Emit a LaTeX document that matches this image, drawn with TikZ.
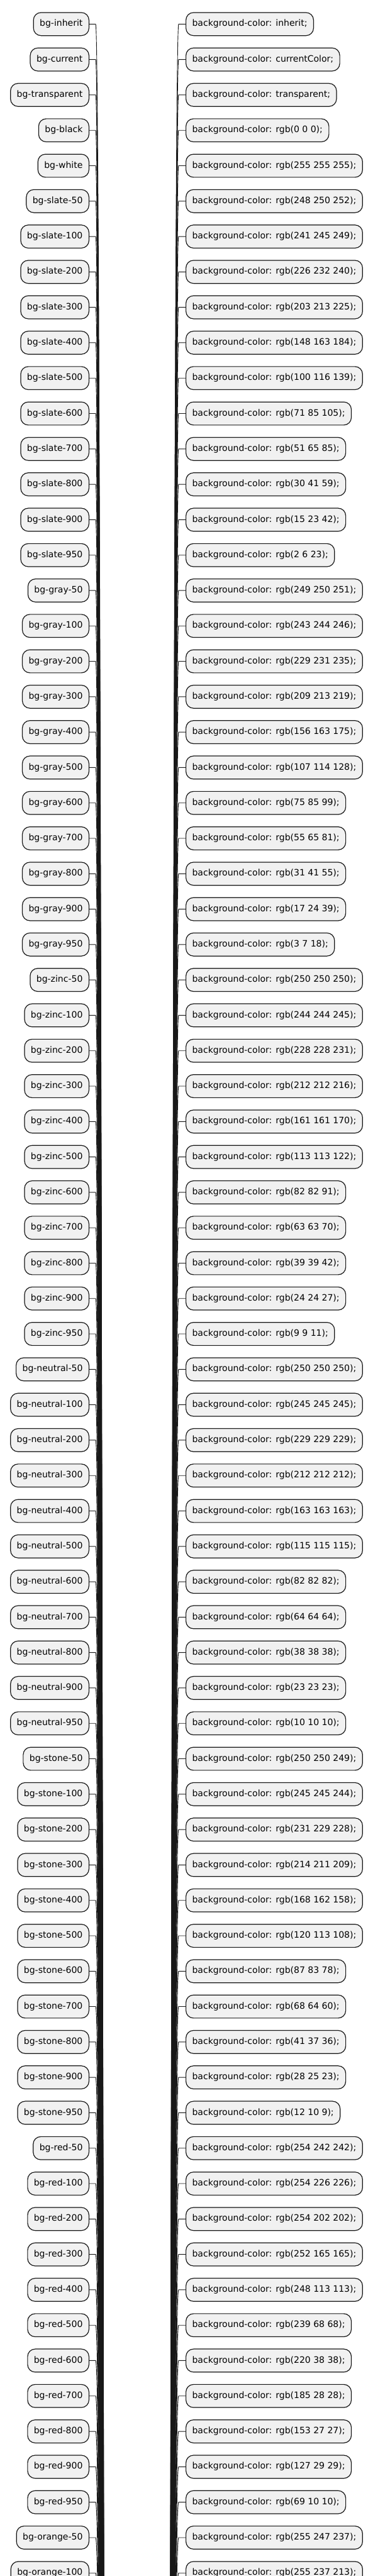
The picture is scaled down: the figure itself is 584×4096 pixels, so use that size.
\documentclass[tikz,border=0pt]{standalone}
\usepackage{fontspec}
\setmainfont{DejaVu Sans}
\definecolor{boxfill}{HTML}{F1F1F1}
\definecolor{boxline}{HTML}{181818}

\begin{document}
\begin{tikzpicture}[x=1pt, y=-1pt,
  cls/.style={draw=boxline, fill=boxfill, line width=1.2pt, rounded corners=12pt, anchor=east,
    inner xsep=10pt, inner ysep=0pt, minimum height=36.7pt, text height=10.6pt, text depth=3.4pt,
    font=\fontsize{14pt}{16pt}\selectfont},
  css/.style={cls, anchor=west},
  link/.style={draw=boxline, line width=0.9pt}]
\useasboundingbox (0, 0) rectangle (584, 4096);
\clip (0, 0) rectangle (584, 4096);
% the root sits far below the visible part
\coordinate (root-l) at (176, 7000);
\coordinate (root-r) at (260, 7000);
% rows
\node[cls] (cls-inherit) at (142, 38.3) {bg-inherit};
\node[css] (css-inherit) at (295, 38.3) {background-color: inherit;};
\draw[link] (cls-inherit.east) -- ++(10, 0) .. controls +(12, 0) and +(-12, 0) .. (root-l);
\draw[link] (css-inherit.west) -- ++(-11, 0) .. controls +(-12, 0) and +(12, 0) .. (root-r);
\node[cls] (cls-current) at (142, 94.6) {bg-current};
\node[css] (css-current) at (295, 94.6) {background-color: currentColor;};
\draw[link] (cls-current.east) -- ++(10, 0) .. controls +(12, 0) and +(-12, 0) .. (root-l);
\draw[link] (css-current.west) -- ++(-11, 0) .. controls +(-12, 0) and +(12, 0) .. (root-r);
\node[cls] (cls-transparent) at (142, 150.9) {bg-transparent};
\node[css] (css-transparent) at (295, 150.9) {background-color: transparent;};
\draw[link] (cls-transparent.east) -- ++(10, 0) .. controls +(12, 0) and +(-12, 0) .. (root-l);
\draw[link] (css-transparent.west) -- ++(-11, 0) .. controls +(-12, 0) and +(12, 0) .. (root-r);
\node[cls] (cls-black) at (142, 207.2) {bg-black};
\node[css] (css-black) at (295, 207.2) {background-color: rgb(0 0 0);};
\draw[link] (cls-black.east) -- ++(10, 0) .. controls +(12, 0) and +(-12, 0) .. (root-l);
\draw[link] (css-black.west) -- ++(-11, 0) .. controls +(-12, 0) and +(12, 0) .. (root-r);
\node[cls] (cls-white) at (142, 263.5) {bg-white};
\node[css] (css-white) at (295, 263.5) {background-color: rgb(255 255 255);};
\draw[link] (cls-white.east) -- ++(10, 0) .. controls +(12, 0) and +(-12, 0) .. (root-l);
\draw[link] (css-white.west) -- ++(-11, 0) .. controls +(-12, 0) and +(12, 0) .. (root-r);
% slate
\node[cls] (cls-slate-50) at (142, 319.8) {bg-slate-50};
\node[css] (css-slate-50) at (295, 319.8) {background-color: rgb(248 250 252);};
\draw[link] (cls-slate-50.east) -- ++(10, 0) .. controls +(12, 0) and +(-12, 0) .. (root-l);
\draw[link] (css-slate-50.west) -- ++(-11, 0) .. controls +(-12, 0) and +(12, 0) .. (root-r);
\node[cls] (cls-slate-100) at (142, 376.1) {bg-slate-100};
\node[css] (css-slate-100) at (295, 376.1) {background-color: rgb(241 245 249);};
\draw[link] (cls-slate-100.east) -- ++(10, 0) .. controls +(12, 0) and +(-12, 0) .. (root-l);
\draw[link] (css-slate-100.west) -- ++(-11, 0) .. controls +(-12, 0) and +(12, 0) .. (root-r);
\node[cls] (cls-slate-200) at (142, 432.3) {bg-slate-200};
\node[css] (css-slate-200) at (295, 432.3) {background-color: rgb(226 232 240);};
\draw[link] (cls-slate-200.east) -- ++(10, 0) .. controls +(12, 0) and +(-12, 0) .. (root-l);
\draw[link] (css-slate-200.west) -- ++(-11, 0) .. controls +(-12, 0) and +(12, 0) .. (root-r);
\node[cls] (cls-slate-300) at (142, 488.6) {bg-slate-300};
\node[css] (css-slate-300) at (295, 488.6) {background-color: rgb(203 213 225);};
\draw[link] (cls-slate-300.east) -- ++(10, 0) .. controls +(12, 0) and +(-12, 0) .. (root-l);
\draw[link] (css-slate-300.west) -- ++(-11, 0) .. controls +(-12, 0) and +(12, 0) .. (root-r);
\node[cls] (cls-slate-400) at (142, 544.9) {bg-slate-400};
\node[css] (css-slate-400) at (295, 544.9) {background-color: rgb(148 163 184);};
\draw[link] (cls-slate-400.east) -- ++(10, 0) .. controls +(12, 0) and +(-12, 0) .. (root-l);
\draw[link] (css-slate-400.west) -- ++(-11, 0) .. controls +(-12, 0) and +(12, 0) .. (root-r);
\node[cls] (cls-slate-500) at (142, 601.2) {bg-slate-500};
\node[css] (css-slate-500) at (295, 601.2) {background-color: rgb(100 116 139);};
\draw[link] (cls-slate-500.east) -- ++(10, 0) .. controls +(12, 0) and +(-12, 0) .. (root-l);
\draw[link] (css-slate-500.west) -- ++(-11, 0) .. controls +(-12, 0) and +(12, 0) .. (root-r);
\node[cls] (cls-slate-600) at (142, 657.5) {bg-slate-600};
\node[css] (css-slate-600) at (295, 657.5) {background-color: rgb(71 85 105);};
\draw[link] (cls-slate-600.east) -- ++(10, 0) .. controls +(12, 0) and +(-12, 0) .. (root-l);
\draw[link] (css-slate-600.west) -- ++(-11, 0) .. controls +(-12, 0) and +(12, 0) .. (root-r);
\node[cls] (cls-slate-700) at (142, 713.8) {bg-slate-700};
\node[css] (css-slate-700) at (295, 713.8) {background-color: rgb(51 65 85);};
\draw[link] (cls-slate-700.east) -- ++(10, 0) .. controls +(12, 0) and +(-12, 0) .. (root-l);
\draw[link] (css-slate-700.west) -- ++(-11, 0) .. controls +(-12, 0) and +(12, 0) .. (root-r);
\node[cls] (cls-slate-800) at (142, 770.1) {bg-slate-800};
\node[css] (css-slate-800) at (295, 770.1) {background-color: rgb(30 41 59);};
\draw[link] (cls-slate-800.east) -- ++(10, 0) .. controls +(12, 0) and +(-12, 0) .. (root-l);
\draw[link] (css-slate-800.west) -- ++(-11, 0) .. controls +(-12, 0) and +(12, 0) .. (root-r);
\node[cls] (cls-slate-900) at (142, 826.4) {bg-slate-900};
\node[css] (css-slate-900) at (295, 826.4) {background-color: rgb(15 23 42);};
\draw[link] (cls-slate-900.east) -- ++(10, 0) .. controls +(12, 0) and +(-12, 0) .. (root-l);
\draw[link] (css-slate-900.west) -- ++(-11, 0) .. controls +(-12, 0) and +(12, 0) .. (root-r);
\node[cls] (cls-slate-950) at (142, 882.7) {bg-slate-950};
\node[css] (css-slate-950) at (295, 882.7) {background-color: rgb(2 6 23);};
\draw[link] (cls-slate-950.east) -- ++(10, 0) .. controls +(12, 0) and +(-12, 0) .. (root-l);
\draw[link] (css-slate-950.west) -- ++(-11, 0) .. controls +(-12, 0) and +(12, 0) .. (root-r);
% gray
\node[cls] (cls-gray-50) at (142, 938.9) {bg-gray-50};
\node[css] (css-gray-50) at (295, 938.9) {background-color: rgb(249 250 251);};
\draw[link] (cls-gray-50.east) -- ++(10, 0) .. controls +(12, 0) and +(-12, 0) .. (root-l);
\draw[link] (css-gray-50.west) -- ++(-11, 0) .. controls +(-12, 0) and +(12, 0) .. (root-r);
\node[cls] (cls-gray-100) at (142, 995.2) {bg-gray-100};
\node[css] (css-gray-100) at (295, 995.2) {background-color: rgb(243 244 246);};
\draw[link] (cls-gray-100.east) -- ++(10, 0) .. controls +(12, 0) and +(-12, 0) .. (root-l);
\draw[link] (css-gray-100.west) -- ++(-11, 0) .. controls +(-12, 0) and +(12, 0) .. (root-r);
\node[cls] (cls-gray-200) at (142, 1051.5) {bg-gray-200};
\node[css] (css-gray-200) at (295, 1051.5) {background-color: rgb(229 231 235);};
\draw[link] (cls-gray-200.east) -- ++(10, 0) .. controls +(12, 0) and +(-12, 0) .. (root-l);
\draw[link] (css-gray-200.west) -- ++(-11, 0) .. controls +(-12, 0) and +(12, 0) .. (root-r);
\node[cls] (cls-gray-300) at (142, 1107.8) {bg-gray-300};
\node[css] (css-gray-300) at (295, 1107.8) {background-color: rgb(209 213 219);};
\draw[link] (cls-gray-300.east) -- ++(10, 0) .. controls +(12, 0) and +(-12, 0) .. (root-l);
\draw[link] (css-gray-300.west) -- ++(-11, 0) .. controls +(-12, 0) and +(12, 0) .. (root-r);
\node[cls] (cls-gray-400) at (142, 1164.1) {bg-gray-400};
\node[css] (css-gray-400) at (295, 1164.1) {background-color: rgb(156 163 175);};
\draw[link] (cls-gray-400.east) -- ++(10, 0) .. controls +(12, 0) and +(-12, 0) .. (root-l);
\draw[link] (css-gray-400.west) -- ++(-11, 0) .. controls +(-12, 0) and +(12, 0) .. (root-r);
\node[cls] (cls-gray-500) at (142, 1220.4) {bg-gray-500};
\node[css] (css-gray-500) at (295, 1220.4) {background-color: rgb(107 114 128);};
\draw[link] (cls-gray-500.east) -- ++(10, 0) .. controls +(12, 0) and +(-12, 0) .. (root-l);
\draw[link] (css-gray-500.west) -- ++(-11, 0) .. controls +(-12, 0) and +(12, 0) .. (root-r);
\node[cls] (cls-gray-600) at (142, 1276.7) {bg-gray-600};
\node[css] (css-gray-600) at (295, 1276.7) {background-color: rgb(75 85 99);};
\draw[link] (cls-gray-600.east) -- ++(10, 0) .. controls +(12, 0) and +(-12, 0) .. (root-l);
\draw[link] (css-gray-600.west) -- ++(-11, 0) .. controls +(-12, 0) and +(12, 0) .. (root-r);
\node[cls] (cls-gray-700) at (142, 1333.0) {bg-gray-700};
\node[css] (css-gray-700) at (295, 1333.0) {background-color: rgb(55 65 81);};
\draw[link] (cls-gray-700.east) -- ++(10, 0) .. controls +(12, 0) and +(-12, 0) .. (root-l);
\draw[link] (css-gray-700.west) -- ++(-11, 0) .. controls +(-12, 0) and +(12, 0) .. (root-r);
\node[cls] (cls-gray-800) at (142, 1389.3) {bg-gray-800};
\node[css] (css-gray-800) at (295, 1389.3) {background-color: rgb(31 41 55);};
\draw[link] (cls-gray-800.east) -- ++(10, 0) .. controls +(12, 0) and +(-12, 0) .. (root-l);
\draw[link] (css-gray-800.west) -- ++(-11, 0) .. controls +(-12, 0) and +(12, 0) .. (root-r);
\node[cls] (cls-gray-900) at (142, 1445.6) {bg-gray-900};
\node[css] (css-gray-900) at (295, 1445.6) {background-color: rgb(17 24 39);};
\draw[link] (cls-gray-900.east) -- ++(10, 0) .. controls +(12, 0) and +(-12, 0) .. (root-l);
\draw[link] (css-gray-900.west) -- ++(-11, 0) .. controls +(-12, 0) and +(12, 0) .. (root-r);
\node[cls] (cls-gray-950) at (142, 1501.8) {bg-gray-950};
\node[css] (css-gray-950) at (295, 1501.8) {background-color: rgb(3 7 18);};
\draw[link] (cls-gray-950.east) -- ++(10, 0) .. controls +(12, 0) and +(-12, 0) .. (root-l);
\draw[link] (css-gray-950.west) -- ++(-11, 0) .. controls +(-12, 0) and +(12, 0) .. (root-r);
% zinc
\node[cls] (cls-zinc-50) at (142, 1558.1) {bg-zinc-50};
\node[css] (css-zinc-50) at (295, 1558.1) {background-color: rgb(250 250 250);};
\draw[link] (cls-zinc-50.east) -- ++(10, 0) .. controls +(12, 0) and +(-12, 0) .. (root-l);
\draw[link] (css-zinc-50.west) -- ++(-11, 0) .. controls +(-12, 0) and +(12, 0) .. (root-r);
\node[cls] (cls-zinc-100) at (142, 1614.4) {bg-zinc-100};
\node[css] (css-zinc-100) at (295, 1614.4) {background-color: rgb(244 244 245);};
\draw[link] (cls-zinc-100.east) -- ++(10, 0) .. controls +(12, 0) and +(-12, 0) .. (root-l);
\draw[link] (css-zinc-100.west) -- ++(-11, 0) .. controls +(-12, 0) and +(12, 0) .. (root-r);
\node[cls] (cls-zinc-200) at (142, 1670.7) {bg-zinc-200};
\node[css] (css-zinc-200) at (295, 1670.7) {background-color: rgb(228 228 231);};
\draw[link] (cls-zinc-200.east) -- ++(10, 0) .. controls +(12, 0) and +(-12, 0) .. (root-l);
\draw[link] (css-zinc-200.west) -- ++(-11, 0) .. controls +(-12, 0) and +(12, 0) .. (root-r);
\node[cls] (cls-zinc-300) at (142, 1727.0) {bg-zinc-300};
\node[css] (css-zinc-300) at (295, 1727.0) {background-color: rgb(212 212 216);};
\draw[link] (cls-zinc-300.east) -- ++(10, 0) .. controls +(12, 0) and +(-12, 0) .. (root-l);
\draw[link] (css-zinc-300.west) -- ++(-11, 0) .. controls +(-12, 0) and +(12, 0) .. (root-r);
\node[cls] (cls-zinc-400) at (142, 1783.3) {bg-zinc-400};
\node[css] (css-zinc-400) at (295, 1783.3) {background-color: rgb(161 161 170);};
\draw[link] (cls-zinc-400.east) -- ++(10, 0) .. controls +(12, 0) and +(-12, 0) .. (root-l);
\draw[link] (css-zinc-400.west) -- ++(-11, 0) .. controls +(-12, 0) and +(12, 0) .. (root-r);
\node[cls] (cls-zinc-500) at (142, 1839.6) {bg-zinc-500};
\node[css] (css-zinc-500) at (295, 1839.6) {background-color: rgb(113 113 122);};
\draw[link] (cls-zinc-500.east) -- ++(10, 0) .. controls +(12, 0) and +(-12, 0) .. (root-l);
\draw[link] (css-zinc-500.west) -- ++(-11, 0) .. controls +(-12, 0) and +(12, 0) .. (root-r);
\node[cls] (cls-zinc-600) at (142, 1895.9) {bg-zinc-600};
\node[css] (css-zinc-600) at (295, 1895.9) {background-color: rgb(82 82 91);};
\draw[link] (cls-zinc-600.east) -- ++(10, 0) .. controls +(12, 0) and +(-12, 0) .. (root-l);
\draw[link] (css-zinc-600.west) -- ++(-11, 0) .. controls +(-12, 0) and +(12, 0) .. (root-r);
\node[cls] (cls-zinc-700) at (142, 1952.2) {bg-zinc-700};
\node[css] (css-zinc-700) at (295, 1952.2) {background-color: rgb(63 63 70);};
\draw[link] (cls-zinc-700.east) -- ++(10, 0) .. controls +(12, 0) and +(-12, 0) .. (root-l);
\draw[link] (css-zinc-700.west) -- ++(-11, 0) .. controls +(-12, 0) and +(12, 0) .. (root-r);
\node[cls] (cls-zinc-800) at (142, 2008.5) {bg-zinc-800};
\node[css] (css-zinc-800) at (295, 2008.5) {background-color: rgb(39 39 42);};
\draw[link] (cls-zinc-800.east) -- ++(10, 0) .. controls +(12, 0) and +(-12, 0) .. (root-l);
\draw[link] (css-zinc-800.west) -- ++(-11, 0) .. controls +(-12, 0) and +(12, 0) .. (root-r);
\node[cls] (cls-zinc-900) at (142, 2064.7) {bg-zinc-900};
\node[css] (css-zinc-900) at (295, 2064.7) {background-color: rgb(24 24 27);};
\draw[link] (cls-zinc-900.east) -- ++(10, 0) .. controls +(12, 0) and +(-12, 0) .. (root-l);
\draw[link] (css-zinc-900.west) -- ++(-11, 0) .. controls +(-12, 0) and +(12, 0) .. (root-r);
\node[cls] (cls-zinc-950) at (142, 2121.0) {bg-zinc-950};
\node[css] (css-zinc-950) at (295, 2121.0) {background-color: rgb(9 9 11);};
\draw[link] (cls-zinc-950.east) -- ++(10, 0) .. controls +(12, 0) and +(-12, 0) .. (root-l);
\draw[link] (css-zinc-950.west) -- ++(-11, 0) .. controls +(-12, 0) and +(12, 0) .. (root-r);
% neutral
\node[cls] (cls-neutral-50) at (142, 2177.3) {bg-neutral-50};
\node[css] (css-neutral-50) at (295, 2177.3) {background-color: rgb(250 250 250);};
\draw[link] (cls-neutral-50.east) -- ++(10, 0) .. controls +(12, 0) and +(-12, 0) .. (root-l);
\draw[link] (css-neutral-50.west) -- ++(-11, 0) .. controls +(-12, 0) and +(12, 0) .. (root-r);
\node[cls] (cls-neutral-100) at (142, 2233.6) {bg-neutral-100};
\node[css] (css-neutral-100) at (295, 2233.6) {background-color: rgb(245 245 245);};
\draw[link] (cls-neutral-100.east) -- ++(10, 0) .. controls +(12, 0) and +(-12, 0) .. (root-l);
\draw[link] (css-neutral-100.west) -- ++(-11, 0) .. controls +(-12, 0) and +(12, 0) .. (root-r);
\node[cls] (cls-neutral-200) at (142, 2289.9) {bg-neutral-200};
\node[css] (css-neutral-200) at (295, 2289.9) {background-color: rgb(229 229 229);};
\draw[link] (cls-neutral-200.east) -- ++(10, 0) .. controls +(12, 0) and +(-12, 0) .. (root-l);
\draw[link] (css-neutral-200.west) -- ++(-11, 0) .. controls +(-12, 0) and +(12, 0) .. (root-r);
\node[cls] (cls-neutral-300) at (142, 2346.2) {bg-neutral-300};
\node[css] (css-neutral-300) at (295, 2346.2) {background-color: rgb(212 212 212);};
\draw[link] (cls-neutral-300.east) -- ++(10, 0) .. controls +(12, 0) and +(-12, 0) .. (root-l);
\draw[link] (css-neutral-300.west) -- ++(-11, 0) .. controls +(-12, 0) and +(12, 0) .. (root-r);
\node[cls] (cls-neutral-400) at (142, 2402.5) {bg-neutral-400};
\node[css] (css-neutral-400) at (295, 2402.5) {background-color: rgb(163 163 163);};
\draw[link] (cls-neutral-400.east) -- ++(10, 0) .. controls +(12, 0) and +(-12, 0) .. (root-l);
\draw[link] (css-neutral-400.west) -- ++(-11, 0) .. controls +(-12, 0) and +(12, 0) .. (root-r);
\node[cls] (cls-neutral-500) at (142, 2458.8) {bg-neutral-500};
\node[css] (css-neutral-500) at (295, 2458.8) {background-color: rgb(115 115 115);};
\draw[link] (cls-neutral-500.east) -- ++(10, 0) .. controls +(12, 0) and +(-12, 0) .. (root-l);
\draw[link] (css-neutral-500.west) -- ++(-11, 0) .. controls +(-12, 0) and +(12, 0) .. (root-r);
\node[cls] (cls-neutral-600) at (142, 2515.1) {bg-neutral-600};
\node[css] (css-neutral-600) at (295, 2515.1) {background-color: rgb(82 82 82);};
\draw[link] (cls-neutral-600.east) -- ++(10, 0) .. controls +(12, 0) and +(-12, 0) .. (root-l);
\draw[link] (css-neutral-600.west) -- ++(-11, 0) .. controls +(-12, 0) and +(12, 0) .. (root-r);
\node[cls] (cls-neutral-700) at (142, 2571.4) {bg-neutral-700};
\node[css] (css-neutral-700) at (295, 2571.4) {background-color: rgb(64 64 64);};
\draw[link] (cls-neutral-700.east) -- ++(10, 0) .. controls +(12, 0) and +(-12, 0) .. (root-l);
\draw[link] (css-neutral-700.west) -- ++(-11, 0) .. controls +(-12, 0) and +(12, 0) .. (root-r);
\node[cls] (cls-neutral-800) at (142, 2627.6) {bg-neutral-800};
\node[css] (css-neutral-800) at (295, 2627.6) {background-color: rgb(38 38 38);};
\draw[link] (cls-neutral-800.east) -- ++(10, 0) .. controls +(12, 0) and +(-12, 0) .. (root-l);
\draw[link] (css-neutral-800.west) -- ++(-11, 0) .. controls +(-12, 0) and +(12, 0) .. (root-r);
\node[cls] (cls-neutral-900) at (142, 2683.9) {bg-neutral-900};
\node[css] (css-neutral-900) at (295, 2683.9) {background-color: rgb(23 23 23);};
\draw[link] (cls-neutral-900.east) -- ++(10, 0) .. controls +(12, 0) and +(-12, 0) .. (root-l);
\draw[link] (css-neutral-900.west) -- ++(-11, 0) .. controls +(-12, 0) and +(12, 0) .. (root-r);
\node[cls] (cls-neutral-950) at (142, 2740.2) {bg-neutral-950};
\node[css] (css-neutral-950) at (295, 2740.2) {background-color: rgb(10 10 10);};
\draw[link] (cls-neutral-950.east) -- ++(10, 0) .. controls +(12, 0) and +(-12, 0) .. (root-l);
\draw[link] (css-neutral-950.west) -- ++(-11, 0) .. controls +(-12, 0) and +(12, 0) .. (root-r);
% stone
\node[cls] (cls-stone-50) at (142, 2796.5) {bg-stone-50};
\node[css] (css-stone-50) at (295, 2796.5) {background-color: rgb(250 250 249);};
\draw[link] (cls-stone-50.east) -- ++(10, 0) .. controls +(12, 0) and +(-12, 0) .. (root-l);
\draw[link] (css-stone-50.west) -- ++(-11, 0) .. controls +(-12, 0) and +(12, 0) .. (root-r);
\node[cls] (cls-stone-100) at (142, 2852.8) {bg-stone-100};
\node[css] (css-stone-100) at (295, 2852.8) {background-color: rgb(245 245 244);};
\draw[link] (cls-stone-100.east) -- ++(10, 0) .. controls +(12, 0) and +(-12, 0) .. (root-l);
\draw[link] (css-stone-100.west) -- ++(-11, 0) .. controls +(-12, 0) and +(12, 0) .. (root-r);
\node[cls] (cls-stone-200) at (142, 2909.1) {bg-stone-200};
\node[css] (css-stone-200) at (295, 2909.1) {background-color: rgb(231 229 228);};
\draw[link] (cls-stone-200.east) -- ++(10, 0) .. controls +(12, 0) and +(-12, 0) .. (root-l);
\draw[link] (css-stone-200.west) -- ++(-11, 0) .. controls +(-12, 0) and +(12, 0) .. (root-r);
\node[cls] (cls-stone-300) at (142, 2965.4) {bg-stone-300};
\node[css] (css-stone-300) at (295, 2965.4) {background-color: rgb(214 211 209);};
\draw[link] (cls-stone-300.east) -- ++(10, 0) .. controls +(12, 0) and +(-12, 0) .. (root-l);
\draw[link] (css-stone-300.west) -- ++(-11, 0) .. controls +(-12, 0) and +(12, 0) .. (root-r);
\node[cls] (cls-stone-400) at (142, 3021.7) {bg-stone-400};
\node[css] (css-stone-400) at (295, 3021.7) {background-color: rgb(168 162 158);};
\draw[link] (cls-stone-400.east) -- ++(10, 0) .. controls +(12, 0) and +(-12, 0) .. (root-l);
\draw[link] (css-stone-400.west) -- ++(-11, 0) .. controls +(-12, 0) and +(12, 0) .. (root-r);
\node[cls] (cls-stone-500) at (142, 3078.0) {bg-stone-500};
\node[css] (css-stone-500) at (295, 3078.0) {background-color: rgb(120 113 108);};
\draw[link] (cls-stone-500.east) -- ++(10, 0) .. controls +(12, 0) and +(-12, 0) .. (root-l);
\draw[link] (css-stone-500.west) -- ++(-11, 0) .. controls +(-12, 0) and +(12, 0) .. (root-r);
\node[cls] (cls-stone-600) at (142, 3134.3) {bg-stone-600};
\node[css] (css-stone-600) at (295, 3134.3) {background-color: rgb(87 83 78);};
\draw[link] (cls-stone-600.east) -- ++(10, 0) .. controls +(12, 0) and +(-12, 0) .. (root-l);
\draw[link] (css-stone-600.west) -- ++(-11, 0) .. controls +(-12, 0) and +(12, 0) .. (root-r);
\node[cls] (cls-stone-700) at (142, 3190.5) {bg-stone-700};
\node[css] (css-stone-700) at (295, 3190.5) {background-color: rgb(68 64 60);};
\draw[link] (cls-stone-700.east) -- ++(10, 0) .. controls +(12, 0) and +(-12, 0) .. (root-l);
\draw[link] (css-stone-700.west) -- ++(-11, 0) .. controls +(-12, 0) and +(12, 0) .. (root-r);
\node[cls] (cls-stone-800) at (142, 3246.8) {bg-stone-800};
\node[css] (css-stone-800) at (295, 3246.8) {background-color: rgb(41 37 36);};
\draw[link] (cls-stone-800.east) -- ++(10, 0) .. controls +(12, 0) and +(-12, 0) .. (root-l);
\draw[link] (css-stone-800.west) -- ++(-11, 0) .. controls +(-12, 0) and +(12, 0) .. (root-r);
\node[cls] (cls-stone-900) at (142, 3303.1) {bg-stone-900};
\node[css] (css-stone-900) at (295, 3303.1) {background-color: rgb(28 25 23);};
\draw[link] (cls-stone-900.east) -- ++(10, 0) .. controls +(12, 0) and +(-12, 0) .. (root-l);
\draw[link] (css-stone-900.west) -- ++(-11, 0) .. controls +(-12, 0) and +(12, 0) .. (root-r);
\node[cls] (cls-stone-950) at (142, 3359.4) {bg-stone-950};
\node[css] (css-stone-950) at (295, 3359.4) {background-color: rgb(12 10 9);};
\draw[link] (cls-stone-950.east) -- ++(10, 0) .. controls +(12, 0) and +(-12, 0) .. (root-l);
\draw[link] (css-stone-950.west) -- ++(-11, 0) .. controls +(-12, 0) and +(12, 0) .. (root-r);
% red
\node[cls] (cls-red-50) at (142, 3415.7) {bg-red-50};
\node[css] (css-red-50) at (295, 3415.7) {background-color: rgb(254 242 242);};
\draw[link] (cls-red-50.east) -- ++(10, 0) .. controls +(12, 0) and +(-12, 0) .. (root-l);
\draw[link] (css-red-50.west) -- ++(-11, 0) .. controls +(-12, 0) and +(12, 0) .. (root-r);
\node[cls] (cls-red-100) at (142, 3472.0) {bg-red-100};
\node[css] (css-red-100) at (295, 3472.0) {background-color: rgb(254 226 226);};
\draw[link] (cls-red-100.east) -- ++(10, 0) .. controls +(12, 0) and +(-12, 0) .. (root-l);
\draw[link] (css-red-100.west) -- ++(-11, 0) .. controls +(-12, 0) and +(12, 0) .. (root-r);
\node[cls] (cls-red-200) at (142, 3528.3) {bg-red-200};
\node[css] (css-red-200) at (295, 3528.3) {background-color: rgb(254 202 202);};
\draw[link] (cls-red-200.east) -- ++(10, 0) .. controls +(12, 0) and +(-12, 0) .. (root-l);
\draw[link] (css-red-200.west) -- ++(-11, 0) .. controls +(-12, 0) and +(12, 0) .. (root-r);
\node[cls] (cls-red-300) at (142, 3584.6) {bg-red-300};
\node[css] (css-red-300) at (295, 3584.6) {background-color: rgb(252 165 165);};
\draw[link] (cls-red-300.east) -- ++(10, 0) .. controls +(12, 0) and +(-12, 0) .. (root-l);
\draw[link] (css-red-300.west) -- ++(-11, 0) .. controls +(-12, 0) and +(12, 0) .. (root-r);
\node[cls] (cls-red-400) at (142, 3640.9) {bg-red-400};
\node[css] (css-red-400) at (295, 3640.9) {background-color: rgb(248 113 113);};
\draw[link] (cls-red-400.east) -- ++(10, 0) .. controls +(12, 0) and +(-12, 0) .. (root-l);
\draw[link] (css-red-400.west) -- ++(-11, 0) .. controls +(-12, 0) and +(12, 0) .. (root-r);
\node[cls] (cls-red-500) at (142, 3697.2) {bg-red-500};
\node[css] (css-red-500) at (295, 3697.2) {background-color: rgb(239 68 68);};
\draw[link] (cls-red-500.east) -- ++(10, 0) .. controls +(12, 0) and +(-12, 0) .. (root-l);
\draw[link] (css-red-500.west) -- ++(-11, 0) .. controls +(-12, 0) and +(12, 0) .. (root-r);
\node[cls] (cls-red-600) at (142, 3753.4) {bg-red-600};
\node[css] (css-red-600) at (295, 3753.4) {background-color: rgb(220 38 38);};
\draw[link] (cls-red-600.east) -- ++(10, 0) .. controls +(12, 0) and +(-12, 0) .. (root-l);
\draw[link] (css-red-600.west) -- ++(-11, 0) .. controls +(-12, 0) and +(12, 0) .. (root-r);
\node[cls] (cls-red-700) at (142, 3809.7) {bg-red-700};
\node[css] (css-red-700) at (295, 3809.7) {background-color: rgb(185 28 28);};
\draw[link] (cls-red-700.east) -- ++(10, 0) .. controls +(12, 0) and +(-12, 0) .. (root-l);
\draw[link] (css-red-700.west) -- ++(-11, 0) .. controls +(-12, 0) and +(12, 0) .. (root-r);
\node[cls] (cls-red-800) at (142, 3866.0) {bg-red-800};
\node[css] (css-red-800) at (295, 3866.0) {background-color: rgb(153 27 27);};
\draw[link] (cls-red-800.east) -- ++(10, 0) .. controls +(12, 0) and +(-12, 0) .. (root-l);
\draw[link] (css-red-800.west) -- ++(-11, 0) .. controls +(-12, 0) and +(12, 0) .. (root-r);
\node[cls] (cls-red-900) at (142, 3922.3) {bg-red-900};
\node[css] (css-red-900) at (295, 3922.3) {background-color: rgb(127 29 29);};
\draw[link] (cls-red-900.east) -- ++(10, 0) .. controls +(12, 0) and +(-12, 0) .. (root-l);
\draw[link] (css-red-900.west) -- ++(-11, 0) .. controls +(-12, 0) and +(12, 0) .. (root-r);
\node[cls] (cls-red-950) at (142, 3978.6) {bg-red-950};
\node[css] (css-red-950) at (295, 3978.6) {background-color: rgb(69 10 10);};
\draw[link] (cls-red-950.east) -- ++(10, 0) .. controls +(12, 0) and +(-12, 0) .. (root-l);
\draw[link] (css-red-950.west) -- ++(-11, 0) .. controls +(-12, 0) and +(12, 0) .. (root-r);
% orange
\node[cls] (cls-orange-50) at (142, 4034.9) {bg-orange-50};
\node[css] (css-orange-50) at (295, 4034.9) {background-color: rgb(255 247 237);};
\draw[link] (cls-orange-50.east) -- ++(10, 0) .. controls +(12, 0) and +(-12, 0) .. (root-l);
\draw[link] (css-orange-50.west) -- ++(-11, 0) .. controls +(-12, 0) and +(12, 0) .. (root-r);
\node[cls] (cls-orange-100) at (142, 4091.2) {bg-orange-100};
\node[css] (css-orange-100) at (295, 4091.2) {background-color: rgb(255 237 213);};
\draw[link] (cls-orange-100.east) -- ++(10, 0) .. controls +(12, 0) and +(-12, 0) .. (root-l);
\draw[link] (css-orange-100.west) -- ++(-11, 0) .. controls +(-12, 0) and +(12, 0) .. (root-r);
\end{tikzpicture}
\end{document}
